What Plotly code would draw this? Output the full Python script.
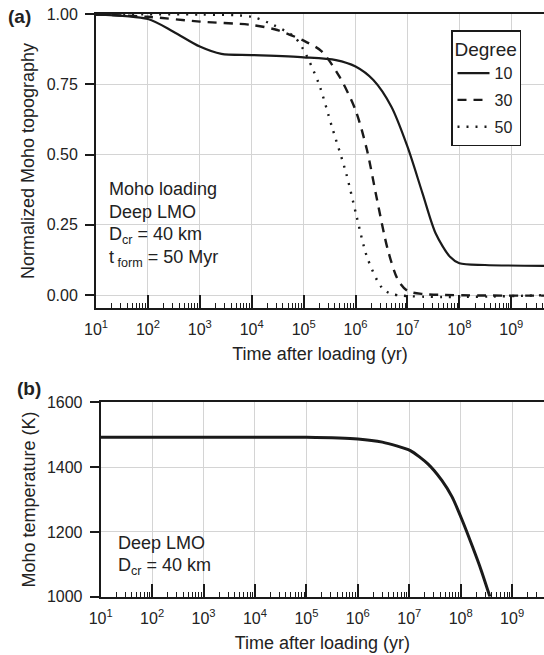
import plotly.graph_objects as go

# ---------------- data ----------------
# Panel (a): normalized Moho topography vs time (yr)
t_deg10 = [10, 100, 310, 1000, 2600, 1e4, 1e5, 4.2e5, 1e6, 2.2e6, 4.9e6, 1e7, 1.95e7, 3.5e7, 6.6e7, 1e8, 3.1e8, 5e9]
h_deg10 = [0.998, 0.982, 0.937, 0.884, 0.858, 0.854, 0.846, 0.836, 0.813, 0.765, 0.670, 0.528, 0.362, 0.219, 0.136, 0.113, 0.107, 0.104]

t_deg30 = [10, 100, 1000, 1e4, 3.1e4, 1e5, 2.2e5, 4.9e5, 1e6, 1.66e6, 2.6e6, 4.2e6, 6.6e6, 1e7, 1.95e7, 5e9]
h_deg30 = [0.998, 0.99, 0.973, 0.961, 0.943, 0.905, 0.868, 0.777, 0.658, 0.516, 0.338, 0.160, 0.053, 0.015, 0.004, -0.002]

t_deg50 = [10, 1000, 1e4, 2.6e4, 6.6e4, 1e5, 1.95e5, 3.5e5, 6.6e5, 1.05e6, 1.66e6, 3.1e6, 4.9e6, 5e9]
h_deg50 = [0.999, 0.998, 0.99, 0.961, 0.919, 0.872, 0.753, 0.599, 0.433, 0.279, 0.136, 0.030, 0.004, 0.0]

degree_names = ["10", "30", "50"]

# Panel (b): Moho temperature vs time (yr)
t_temp = [10, 1e5, 1e6, 3e6, 1.05e7, 2.3e7, 4.3e7, 6.8e7, 1.07e8, 1.7e8, 2.5e8, 3.7e8]
moho_temp = [1492, 1492, 1487, 1477, 1451, 1410, 1359, 1308, 1236, 1154, 1082, 1000]

x_tickvals = [1e1, 1e2, 1e3, 1e4, 1e5, 1e6, 1e7, 1e8, 1e9]
x_ticktext = ["10<sup>1</sup>", "10<sup>2</sup>", "10<sup>3</sup>", "10<sup>4</sup>", "10<sup>5</sup>",
              "10<sup>6</sup>", "10<sup>7</sup>", "10<sup>8</sup>", "10<sup>9</sup>"]
y1_tickvals = [0.0, 0.25, 0.5, 0.75, 1.0]
y1_ticktext = ["0.00", "0.25", "0.50", "0.75", "1.00"]
y2_tickvals = [1000, 1200, 1400, 1600]

# ---------------- figure ----------------
W, H = 544, 655
FONT = "Liberation Sans, Arial, Helvetica, sans-serif"
INK = "#1a1a1a"
TXT = "#222222"
GRID = "#d4d4d4"

fig = go.Figure()

styles = [("solid", 2.2), ("9px,7px", 2.4), ("2px,7px", 2.4)]
for name, t, h, (dash, w) in zip(degree_names, [t_deg10, t_deg30, t_deg50],
                                  [h_deg10, h_deg30, h_deg50], styles):
    fig.add_trace(go.Scatter(x=t, y=h, mode="lines", name=name,
                             line=dict(color=INK, width=w, dash=dash, shape="spline", smoothing=0.8),
                             xaxis="x", yaxis="y", legendgroup=name))

fig.add_trace(go.Scatter(x=t_temp, y=moho_temp, mode="lines", showlegend=False,
                         line=dict(color=INK, width=3, shape="spline", smoothing=0.6),
                         xaxis="x2", yaxis="y2"))

def px_x(p):
    return p / W

def px_y(p):
    return 1 - p / H

xaxis_common = dict(
    type="log", tickmode="array", tickvals=x_tickvals, ticktext=x_ticktext,
    ticks="inside", ticklen=13, tickwidth=1.5, tickcolor=INK,
    showline=True, linecolor=INK, linewidth=2, mirror=True,
    showgrid=True, gridcolor=GRID, gridwidth=1, zeroline=False,
    minor=dict(ticks="inside", ticklen=5, tickwidth=1.2, tickcolor=INK, dtick="D1", showgrid=False),
    tickfont=dict(size=16, color=TXT, family=FONT), ticklabelstandoff=6,
    title=dict(text="Time after loading (yr)", font=dict(size=18, color=TXT, family=FONT), standoff=10),
    automargin=False, fixedrange=True,
)

yaxis_common = dict(
    ticks="outside", ticklen=9, tickwidth=1.5, tickcolor=INK,
    showline=True, linecolor=INK, linewidth=2,
    showgrid=True, gridcolor=GRID, gridwidth=1, zeroline=False,
    tickfont=dict(size=16, color=TXT, family=FONT), ticklabelstandoff=4,
    automargin=False, fixedrange=True,
)

fig.update_layout(
    width=W, height=H,
    margin=dict(l=0, r=0, t=0, b=0, autoexpand=False),
    paper_bgcolor="white", plot_bgcolor="white",
    font=dict(family=FONT, color=TXT),
    xaxis=dict(xaxis_common, domain=[px_x(96), 1.0], range=[1, 9.63], anchor="y"),
    yaxis=dict(yaxis_common, domain=[px_y(308), px_y(14)], range=[-0.046, 1.0], anchor="x",
               tickmode="array", tickvals=y1_tickvals, ticktext=y1_ticktext,
               title=dict(text="Normalized Moho topography", font=dict(size=18, color=TXT, family=FONT), standoff=7)),
    xaxis2=dict(xaxis_common, domain=[px_x(100.7), 1.0], range=[1, 9.62], anchor="y2"),
    yaxis2=dict(yaxis_common, domain=[px_y(596.7), px_y(402.3)], range=[1000, 1600], anchor="x2",
                tickmode="array", tickvals=y2_tickvals,
                title=dict(text="Moho temperature (K)", font=dict(size=18, color=TXT, family=FONT), standoff=7)),
    legend=dict(x=px_x(451), y=px_y(30), xanchor="left", yanchor="top",
                bordercolor=INK, borderwidth=1.5, bgcolor="white",
                title=dict(text="Degree", font=dict(size=19, color=TXT, family=FONT)),
                font=dict(size=16, color=TXT, family=FONT), tracegroupgap=3,
                itemwidth=32),
    showlegend=True,
)

ann_font = dict(size=18, color=TXT, family=FONT)
annotations = [
    dict(text="<b>(a)</b>", x=px_x(6), y=px_y(17), xanchor="left", yanchor="middle", font=dict(size=19, color=TXT, family=FONT)),
    dict(text="<b>(b)</b>", x=px_x(15), y=px_y(388), xanchor="left", yanchor="middle", font=dict(size=19, color=TXT, family=FONT)),
    dict(text="Moho loading", x=px_x(107), y=px_y(189), xanchor="left", yanchor="middle", font=ann_font),
    dict(text="Deep LMO", x=px_x(107), y=px_y(212), xanchor="left", yanchor="middle", font=ann_font),
    dict(text="D<sub>cr</sub> = 40 km", x=px_x(107), y=px_y(235), xanchor="left", yanchor="middle", font=ann_font),
    dict(text="t<sub> form</sub> = 50 Myr", x=px_x(107), y=px_y(258), xanchor="left", yanchor="middle", font=ann_font),
    dict(text="Deep LMO", x=px_x(116), y=px_y(543), xanchor="left", yanchor="middle", font=ann_font),
    dict(text="D<sub>cr</sub> = 40 km", x=px_x(116), y=px_y(566), xanchor="left", yanchor="middle", font=ann_font),
]
for a in annotations:
    a.update(xref="paper", yref="paper", showarrow=False)
fig.update_layout(annotations=annotations)

fig.write_html("out.html", config={"displayModeBar": False},
               post_script="document.body.style.margin='0';")
